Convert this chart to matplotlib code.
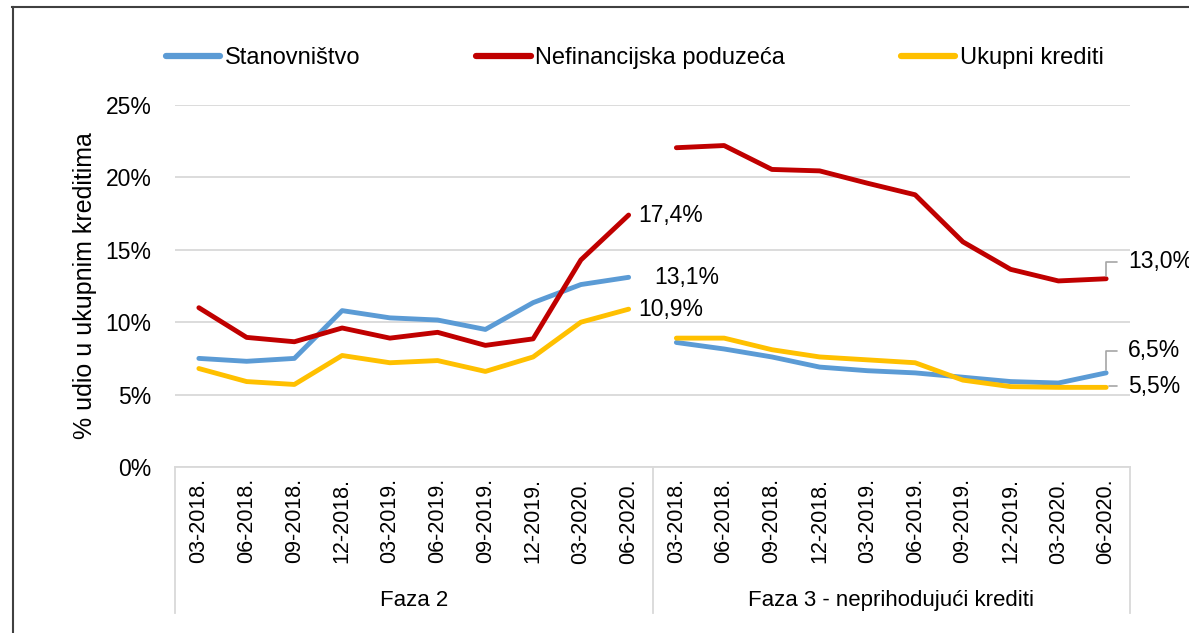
import matplotlib.pyplot as plt
from matplotlib.lines import Line2D
from matplotlib.ticker import FuncFormatter
from matplotlib.transforms import blended_transform_factory

plt.rcParams['font.family'] = ['Liberation Sans', 'DejaVu Sans']

# podaci (% udio u ukupnim kreditima)
kvartali = ["03-2018.", "06-2018.", "09-2018.", "12-2018.", "03-2019.",
            "06-2019.", "09-2019.", "12-2019.", "03-2020.", "06-2020."]
faze = ["Faza 2", "Faza 3 - neprihodujući krediti"]

stanovnistvo_f2 = [7.5, 7.3, 7.5, 10.8, 10.3, 10.15, 9.5, 11.35, 12.6, 13.1]
nefin_f2 = [11.0, 8.95, 8.65, 9.6, 8.9, 9.3, 8.4, 8.85, 14.3, 17.4]
ukupni_f2 = [6.8, 5.9, 5.7, 7.7, 7.2, 7.35, 6.6, 7.6, 10.0, 10.9]

stanovnistvo_f3 = [8.6, 8.15, 7.6, 6.9, 6.65, 6.5, 6.2, 5.9, 5.8, 6.5]
nefin_f3 = [22.05, 22.2, 20.55, 20.45, 19.6, 18.8, 15.55, 13.65, 12.85, 13.0]
ukupni_f3 = [8.9, 8.9, 8.1, 7.6, 7.4, 7.2, 6.0, 5.55, 5.5, 5.5]

nazivi = ["Stanovništvo", "Nefinancijska poduzeća", "Ukupni krediti"]
boje = ["#5B9BD5", "#C00000", "#FFC000"]

fig = plt.figure(figsize=(11.89, 6.33), dpi=100)
ax = fig.add_axes([175/1189, 1-467/633, 955/1189, 362/633])

n = len(kvartali)
x2 = list(range(n))
x3 = list(range(n, 2*n))

serije = [(stanovnistvo_f2, stanovnistvo_f3), (nefin_f2, nefin_f3), (ukupni_f2, ukupni_f3)]
for (f2, f3), boja in zip(serije, boje):
    ax.plot(x2, f2, color=boja, lw=3.5, solid_joinstyle='round', solid_capstyle='round', zorder=3)
    ax.plot(x3, f3, color=boja, lw=3.5, solid_joinstyle='round', solid_capstyle='round', zorder=3)

ax.set_xlim(-0.5, 2*n - 0.5)
ax.set_ylim(0, 25)
ax.set_yticks([0, 5, 10, 15, 20, 25])
ax.yaxis.set_major_formatter(FuncFormatter(lambda v, p: f"{v:.0f}%"))
ax.grid(axis='y', color='#D9D9D9', lw=1.3)
ax.set_axisbelow(True)
for s in ['top', 'right', 'left']:
    ax.spines[s].set_visible(False)
ax.spines['bottom'].set_color('#D9D9D9')
ax.spines['bottom'].set_linewidth(1.3)

ax.set_xticks(x2 + x3)
ax.set_xticklabels(kvartali + kvartali, rotation=90, fontsize=15.5, va='top')
ax.tick_params(axis='x', length=0, pad=8)
ax.tick_params(axis='y', length=0, pad=17, labelsize=16.5)
ax.set_ylabel("% udio u ukupnim kreditima", fontsize=18, labelpad=6)

# razdjelnici grupa i nazivi faza
tr = blended_transform_factory(ax.transData, ax.transAxes)
for g in [-0.5, n - 0.5, 2*n - 0.5]:
    ax.plot([g, g], [0, -0.403], transform=tr, color='#D9D9D9', lw=1.3, clip_on=False)
for i, faza in enumerate(faze):
    ax.text(i*n + (n - 1)/2, -0.37, faza, transform=tr, ha='center', va='center', fontsize=16)

# oznake vrijednosti
ax.annotate("17,4%", (x2[-1], nefin_f2[-1]), xytext=(10, 0), textcoords='offset pixels',
            ha='left', va='center', fontsize=16.5)
ax.annotate("13,1%", (x2[-1], stanovnistvo_f2[-1]), xytext=(26, 0), textcoords='offset pixels',
            ha='left', va='center', fontsize=16.5)
ax.annotate("10,9%", (x2[-1], ukupni_f2[-1]), xytext=(10, 0), textcoords='offset pixels',
            ha='left', va='center', fontsize=16.5)

vodilica = dict(arrowstyle='-', color='#A6A6A6', lw=1.2, relpos=(0, 0.5),
                connectionstyle='angle,angleA=0,angleB=90,rad=0', shrinkA=6, shrinkB=2)
ax.annotate("13,0%", (x3[-1], nefin_f3[-1]), xytext=(22, 17), textcoords='offset pixels',
            ha='left', va='center', fontsize=16.5, arrowprops=vodilica, annotation_clip=False)
ax.annotate("6,5%", (x3[-1], stanovnistvo_f3[-1]), xytext=(22, 22), textcoords='offset pixels',
            ha='left', va='center', fontsize=16.5, arrowprops=vodilica, annotation_clip=False)
ax.annotate("5,5%", (x3[-1], ukupni_f3[-1]), xytext=(22, 1), textcoords='offset pixels',
            ha='left', va='center', fontsize=16.5, arrowprops=vodilica, annotation_clip=False)

# legenda
rucke = [Line2D([0], [0], color=b, lw=4.5, solid_capstyle='round') for b in boje]
fig.legend(rucke, nazivi, loc='center', bbox_to_anchor=(635/1189, 1-58/633), ncol=3,
           frameon=False, fontsize=17, handlelength=2.3, handletextpad=0.2,
           columnspacing=4.9)

# okvir slike
fig.add_artist(Line2D([12/1189, 1], [1-7/633, 1-7/633], color='#404040', lw=1.5))
fig.add_artist(Line2D([13/1189, 13/1189], [0, 1-7/633], color='#404040', lw=1.5))

fig.savefig("out.png", dpi=100)
